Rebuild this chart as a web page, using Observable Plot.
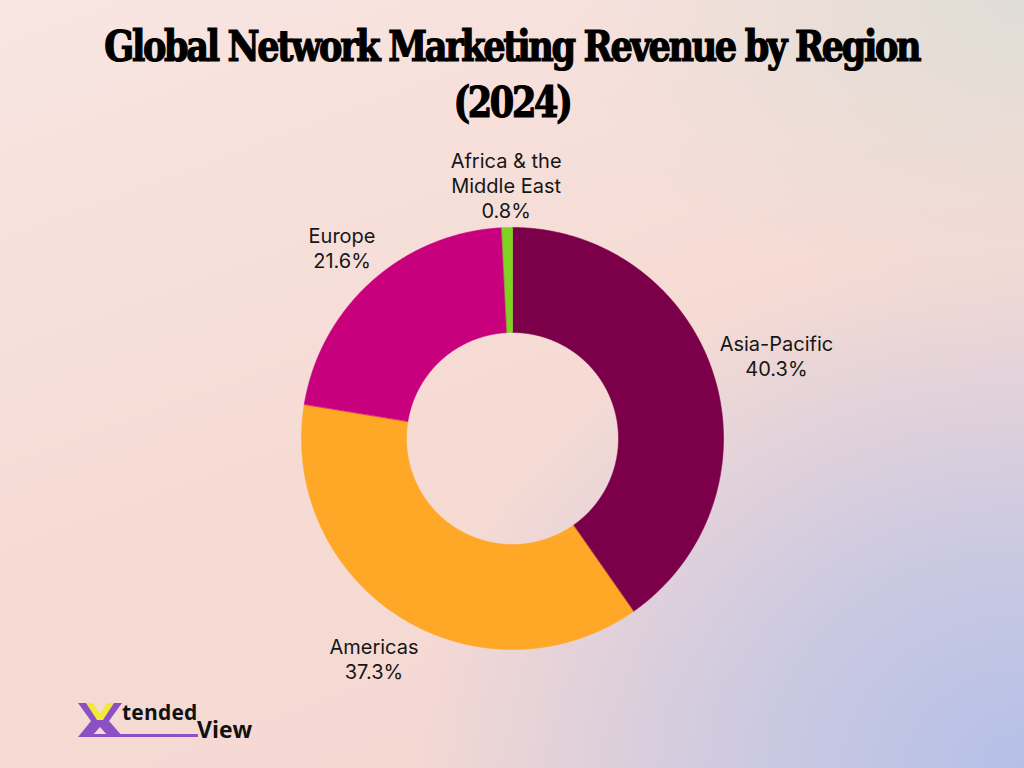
<!DOCTYPE html>
<html>
<head>
<meta charset="utf-8">
<script src="https://cdn.jsdelivr.net/npm/d3@7"></script>
<script src="https://cdn.jsdelivr.net/npm/@observablehq/plot@0.6"></script>
<style>
  html, body { margin: 0; padding: 0; }
  body {
    width: 1024px; height: 768px; overflow: hidden; position: relative;
    background:
      radial-gradient(ellipse 75% 85% at 100% 100%, rgba(180,192,232,1) 0%, rgba(190,196,230,0.75) 35%, rgba(200,200,230,0) 80%),
      radial-gradient(ellipse 45% 40% at 100% 0%, rgba(224,221,214,1) 0%, rgba(224,221,214,0) 100%),
      linear-gradient(160deg, #f8e5e2 0%, #f6dbd4 50%, #f4d6d2 100%);
    font-family: Inter, sans-serif;
  }
  #title {
    position: absolute; left: 0; top: 19px; width: 1024px; text-align: center;
    font-family: "DejaVu Serif Condensed", "DejaVu Serif", serif; font-weight: 900;
    font-stretch: condensed;
    font-size: 42px; line-height: 56px; letter-spacing: -2.5px; color: #000;
    -webkit-text-stroke: 1.2px #000;
  }
  #title span { display: inline-block; }
  #chart { position: absolute; left: 0; top: 140px; }
  #logo { position: absolute; left: 78px; top: 698px; width: 200px; height: 50px; }
</style>
</head>
<body>
<div id="title"><span id="t1">Global Network Marketing Revenue by Region</span><br><span id="t2">(2024)</span></div>
<div id="chart"></div>
<svg id="logo" width="200" height="50" viewBox="0 0 200 50">
  <polygon points="0,5 14,5 22,18 30,5 44,5 31,23 45,39 31,39 22,29 13,39 0,39 13,23" fill="#8c4fc4"/>
  <polygon points="8,5 15,5 22,16 29,5 36,5 25,22 19,22" fill="#f2e83a"/>
  <rect x="10" y="36" width="110" height="3" fill="#8c4fc4"/>
  <text x="44" y="22" font-family="Open Sans, sans-serif" font-weight="700" font-size="21" fill="#111" letter-spacing="0.2">tended</text>
  <text x="119" y="40" font-family="Open Sans, sans-serif" font-weight="700" font-size="23" fill="#111">View</text>
</svg>
<script>
// ---- data ----
const regions = ["Asia-Pacific", "Americas", "Europe", "Africa & the Middle East"];
const shares = [40.3, 37.3, 21.6, 0.8];
const labelLines = [["Asia-Pacific"], ["Americas"], ["Europe"], ["Africa & the", "Middle East"]];
const colors = ["#7b0049", "#ffa726", "#c8007d", "#7ed321"];

// ---- layout constants ----
const W = 1024, H = 560;
const R = 211;            // outer radius px
const cx = 512, cy = 298; // centre within svg (px)
const innerRatio = 106 / 211;

const data = regions.map((r, i) => ({region: r, share: shares[i], lines: labelLines[i]}));
const arcs = d3.pie().sort(null).value(d => d.share)(data);

// polygon points per slice (unit radius coordinates, y up)
const pts = [];
for (const a of arcs) {
  const n = Math.max(4, Math.ceil((a.endAngle - a.startAngle) / 0.005));
  for (let k = 0; k <= n; k++) {
    const t = a.startAngle + (a.endAngle - a.startAngle) * k / n;
    pts.push({region: a.data.region, x: Math.sin(t), y: Math.cos(t)});
  }
  for (let k = n; k >= 0; k--) {
    const t = a.startAngle + (a.endAngle - a.startAngle) * k / n;
    pts.push({region: a.data.region, x: innerRatio * Math.sin(t), y: innerRatio * Math.cos(t)});
  }
}

// label placement: box edge just outside the ring
const fontSize = 20, lineH = 25;
const ctx = document.createElement("canvas").getContext("2d");
ctx.font = `${fontSize}px Inter`;
const labels = arcs.map(a => {
  const mid = (a.startAngle + a.endAngle) / 2;
  const lines = [...a.data.lines, a.data.share.toFixed(1) + "%"];
  const w = d3.max(lines, l => ctx.measureText(l).width) / 2;
  const h = lines.length * lineH / 2;
  const s = Math.sin(mid), c = Math.cos(mid);
  const r = (215 + w * Math.abs(s) + h * Math.abs(c)) / R;
  return {x: r * s, y: r * c, text: lines.join("\n")};
});

const chart = Plot.plot({
  width: W, height: H,
  margin: 0,
  style: {background: "transparent", overflow: "visible"},
  x: {domain: [-cx / R, (W - cx) / R], axis: null},
  y: {domain: [-(H - cy) / R, cy / R], axis: null},
  color: {domain: regions, range: colors},
  marks: [
    Plot.line(pts, {x: "x", y: "y", z: "region", fill: "region", stroke: "region", strokeWidth: 0.6, curve: "linear-closed"}),
    Plot.text(labels, {x: "x", y: "y", text: "text", fontSize: fontSize, lineHeight: lineH / fontSize,
      lineAnchor: "middle", textAnchor: "middle", fill: "#161616", fontFamily: "Inter"})
  ]
});
document.getElementById("chart").appendChild(chart);

// fit title line width to reference
const t1 = document.getElementById("t1");
const target = 815;
const wNow = t1.getBoundingClientRect().width;
t1.style.transform = `scaleX(${target / wNow})`;
document.getElementById("t2").style.transform = `scaleX(${target / wNow})`;
</script>
</body>
</html>
